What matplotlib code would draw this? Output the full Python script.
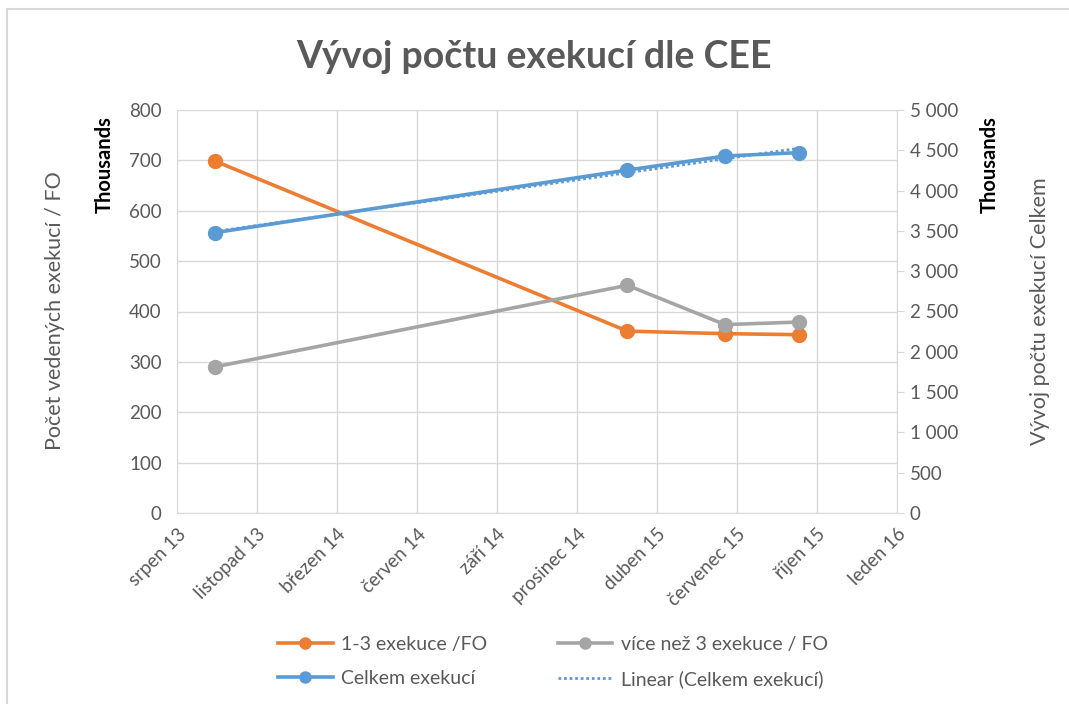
import datetime as dt
import numpy as np
import matplotlib
matplotlib.use("Agg")
import matplotlib.pyplot as plt
from matplotlib.ticker import FuncFormatter
from matplotlib.patches import Rectangle

plt.rcParams['font.family'] = ['Lato', 'DejaVu Sans']

# data (values in thousands)
dates = [dt.date(2013, 9, 30), dt.date(2015, 2, 28), dt.date(2015, 6, 30), dt.date(2015, 9, 30)]
fo_1_3 = [699, 361, 356, 354]
fo_more3 = [290, 452, 374, 379]
celkem = [3478, 4255, 4429, 4471]

# excel-style date axis: serial numbers, step 100 days
x_ticks = [41500, 41600, 41700, 41800, 41900, 42000, 42100, 42200, 42300, 42400]
x_labels = ["srpen 13", "listopad 13", "březen 14", "červen 14", "září 14",
            "prosinec 14", "duben 15", "červenec 15", "říjen 15", "leden 16"]

def serial(d):
    return (d - dt.date(1899, 12, 30)).days

x = np.array([serial(d) for d in dates])

ORANGE = "#ED7D31"
GRAY = "#A5A5A5"
BLUE = "#5B9BD5"
TXT = "#595959"
GRID = "#D9D9D9"

fig = plt.figure(figsize=(10.69, 7.04), dpi=100)
# chart area border (cut off at right/bottom like the screenshot)
fig.patches.append(Rectangle((7/1069, -0.1), 1.2, 1 - 9/704 + 0.1,
                             transform=fig.transFigure, fill=False,
                             ec=GRID, lw=1.5, zorder=0))

ax = fig.add_axes([177/1069, 1-513/704, 720/1069, 403/704])
ax2 = ax.twinx()

l1, = ax.plot(x, fo_1_3, color=ORANGE, lw=2.6, marker='o', ms=10, zorder=3,
              label="1-3 exekuce /FO")
l2, = ax.plot(x, fo_more3, color=GRAY, lw=2.6, marker='o', ms=10, zorder=3,
              label="více než 3 exekuce / FO")
l3, = ax2.plot(x, celkem, color=BLUE, lw=2.6, marker='o', ms=10, zorder=3,
               label="Celkem exekucí")
k, q = np.polyfit(x, celkem, 1)
l4, = ax2.plot(x[[0, -1]], k*x[[0, -1]] + q, color=BLUE, lw=2, ls=(0, (1, 1)),
               zorder=4, label="Linear (Celkem exekucí)")

ax.set_xlim(x_ticks[0], x_ticks[-1])
ax.set_ylim(0, 800)
ax2.set_ylim(0, 5000)
ax.set_yticks(range(0, 801, 100))
ax2.set_yticks(range(0, 5001, 500))
ax2.yaxis.set_major_formatter(FuncFormatter(lambda v, p: f"{int(v):,}".replace(",", " ")))
ax.set_xticks(x_ticks)
ax.set_xticklabels(x_labels, rotation=45, ha='right', rotation_mode='anchor')

ax.grid(True, color=GRID, lw=1)
ax.set_axisbelow(True)
for a in (ax, ax2):
    for s in a.spines.values():
        s.set_visible(False)
ax.spines['bottom'].set_visible(True)
ax.spines['bottom'].set_color(GRID)
ax.spines['left'].set_visible(True)
ax.spines['left'].set_color(GRID)
ax2.spines['right'].set_visible(True)
ax2.spines['right'].set_color(GRID)

ax.tick_params(axis='y', length=0, pad=11, labelsize=13.5, labelcolor=TXT)
ax.tick_params(axis='x', length=0, pad=9, labelsize=13.5, labelcolor=TXT)
ax2.tick_params(axis='y', length=5, color=GRID, pad=4, labelsize=13.5, labelcolor=TXT)

fig.text(0.5, 1-57/704, "Vývoj počtu exekucí dle CEE", ha='center', va='center',
         fontsize=27, fontweight='bold', color=TXT)
fig.text(55/1069, 1-311/704, "Počet vedených exekucí / FO", rotation=90,
         ha='center', va='center', fontsize=15.5, color=TXT)
fig.text(105/1069, 1-165/704, "Thousands", rotation=90, ha='center', va='center',
         fontsize=14.5, fontweight='bold', color='black')
fig.text(990/1069, 1-165/704, "Thousands", rotation=90, ha='center', va='center',
         fontsize=14.5, fontweight='bold', color='black')
fig.text(1040/1069, 1-311/704, "Vývoj počtu exekucí Celkem", rotation=90,
         ha='center', va='center', fontsize=15.5, color=TXT)

fig.legend([l1, l3, l2, l4], [h.get_label() for h in (l1, l3, l2, l4)],
           ncol=2, loc='center', bbox_to_anchor=(553/1069, 1-662/704),
           frameon=False, fontsize=14, labelcolor=TXT, handlelength=2.8,
           handletextpad=0.45, columnspacing=3.6, labelspacing=0.9, markerscale=0.8)

fig.savefig("out.png", dpi=100)
